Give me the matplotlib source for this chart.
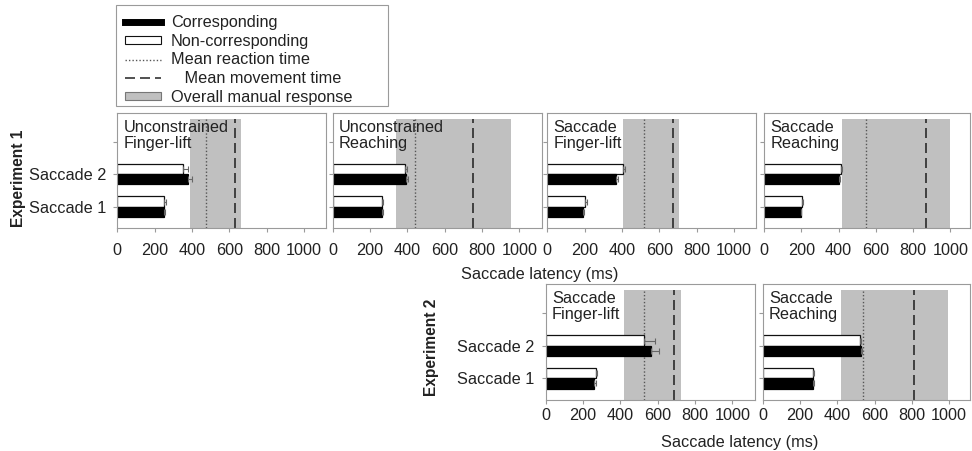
import matplotlib
matplotlib.use("Agg")
import matplotlib.pyplot as plt
from matplotlib.lines import Line2D
from matplotlib.patches import Patch, Rectangle

plt.rcParams['font.family'] = ['Liberation Sans', 'DejaVu Sans']

# ---- data ----
panel_titles = ["Unconstrained\nFinger-lift", "Unconstrained\nReaching",
                "Saccade\nFinger-lift", "Saccade\nReaching",
                "Saccade\nFinger-lift", "Saccade\nReaching"]
categories = ["Saccade 1", "Saccade 2"]
corr_s1 = [248, 264, 193, 197, 259, 268]
corr_s2 = [380, 393, 368, 400, 566, 525]
non_s1 = [250, 262, 204, 203, 268, 268]
non_s2 = [350, 387, 403, 412, 527, 521]
corr_s1_err = [9, 6, 5, 4, 10, 5]
corr_s2_err = [22, 10, 12, 10, 40, 6]
non_s1_err = [10, 8, 7, 5, 9, 5]
non_s2_err = [28, 12, 12, 7, 58, 8]
span_start = [390, 337, 407, 419, 418, 420]
span_end = [665, 955, 708, 1000, 725, 991]
reaction = [478, 443, 517, 547, 529, 536]
movement = [631, 754, 673, 869, 688, 812]
xticks = [0, 200, 400, 600, 800, 1000]

W, H = 972, 451
fig = plt.figure(figsize=(W / 100, H / 100), dpi=100)

TXT = '#222222'
FR = '#9a9a9a'
FS = 11.7

# panel geometry in pixels: (left, top, bottom, width, xmax)
geo = [
    (117.3, 113, 228, 209, 1120),
    (332.7, 113, 228, 209, 1120),
    (547.3, 113, 228, 209, 1120),
    (764.0, 113, 228, 206, 1105),
    (545.7, 284, 400, 209, 1120),
    (762.7, 284, 400, 207, 1110),
]
show_ylabels = [True, False, False, False, True, False]
xpad = [8, 8, 8, 8, 2.5, 2.5]

for k, (l, t, b, w, xm) in enumerate(geo):
    ax = fig.add_axes([l / W, (H - b) / H, w / W, (b - t) / H])
    ax.set_xlim(0, xm)
    ax.set_ylim(-0.66, 2.88)
    ax.axvspan(span_start[k], span_end[k], ymin=0, ymax=0.945,
               color='#c0c0c0', lw=0, zorder=0)
    ax.axvline(reaction[k], ymin=0, ymax=0.945, color='#555555',
               lw=1.0, ls=(0, (1, 1.5)), zorder=1)
    ax.axvline(movement[k], ymin=0, ymax=0.945, color='#2a2a2a',
               lw=1.2, ls=(0, (6, 3)), zorder=1)
    ys = [0, 1]
    hb = 0.31
    non_vals = [non_s1[k], non_s2[k]]
    cor_vals = [corr_s1[k], corr_s2[k]]
    non_err = [non_s1_err[k], non_s2_err[k]]
    cor_err = [corr_s1_err[k], corr_s2_err[k]]
    yw = [y + hb / 2 for y in ys]
    yb = [y - hb / 2 for y in ys]
    ax.barh(yw, non_vals, height=hb, color='white', edgecolor='#111111',
            lw=0.9, zorder=2)
    ax.barh(yb, cor_vals, height=hb, color='black', edgecolor='black',
            lw=0.9, zorder=2)
    ax.errorbar(non_vals, yw, xerr=[[0, 0], non_err], fmt='none',
                ecolor='#666666', elinewidth=0.8, capsize=2.5, capthick=0.8, zorder=3)
    ax.errorbar(cor_vals, yb, xerr=[[0, 0], cor_err], fmt='none',
                ecolor='#666666', elinewidth=0.8, capsize=2.5, capthick=0.8, zorder=3)
    ax.text(0.03, 0.94, panel_titles[k], transform=ax.transAxes, ha='left',
            va='top', fontsize=FS, color=TXT, linespacing=1.12, zorder=4)
    for s in ax.spines.values():
        s.set_color(FR)
        s.set_linewidth(0.8)
    ax.set_xticks(xticks)
    ax.set_xticklabels([str(v) for v in xticks])
    ax.set_yticks([0, 1, 2])
    if show_ylabels[k]:
        ax.set_yticklabels(categories + [""])
    else:
        ax.set_yticklabels(["", "", ""])
    ax.tick_params(axis='both', colors=FR, labelcolor=TXT, labelsize=FS,
                   length=3, width=0.8)
    ax.tick_params(axis='x', pad=xpad[k])
    ax.tick_params(axis='y', pad=5)

fig.text(540 / W, 1 - 275 / H, "Saccade latency (ms)", ha='center', va='center',
         fontsize=FS, color=TXT)
fig.text(740 / W, 1 - 442 / H, "Saccade latency (ms)", ha='center', va='center',
         fontsize=FS, color=TXT)
fig.text(19 / W, 1 - 178 / H, "Experiment 1", rotation=90, ha='center',
         va='center', fontsize=11.2, fontweight='bold', color=TXT)
fig.text(431 / W, 1 - 347 / H, "Experiment 2", rotation=90, ha='center',
         va='center', fontsize=11.2, fontweight='bold', color=TXT)

# legend
fig.patches.append(Rectangle((116 / W, 1 - 106 / H), 272 / W, 101 / H,
                             transform=fig.transFigure, fill=True,
                             facecolor='white', edgecolor=FR, lw=0.8))
handles = [
    Line2D([], [], color='black', lw=5),
    Patch(facecolor='white', edgecolor='#111111', lw=0.8),
    Line2D([], [], color='#555555', lw=1.0, ls=(0, (1, 1.5))),
    Line2D([], [], color='#333333', lw=1.2, ls=(0, (6, 3))),
    Patch(facecolor='#c0c0c0', edgecolor='#777777', lw=0.8),
]
labels = ["Corresponding", "Non-corresponding", "Mean reaction time",
          "   Mean movement time", "Overall manual response"]
leg = fig.legend(handles, labels, loc='upper left',
                 bbox_to_anchor=(122 / W, 1 - 12 / H), frameon=False,
                 fontsize=FS, handlelength=2.2, handleheight=0.35,
                 handletextpad=0.6, labelspacing=0.22, borderpad=0.2,
                 borderaxespad=0)
for tx in leg.get_texts():
    tx.set_color(TXT)

fig.savefig("out.png", dpi=100)
